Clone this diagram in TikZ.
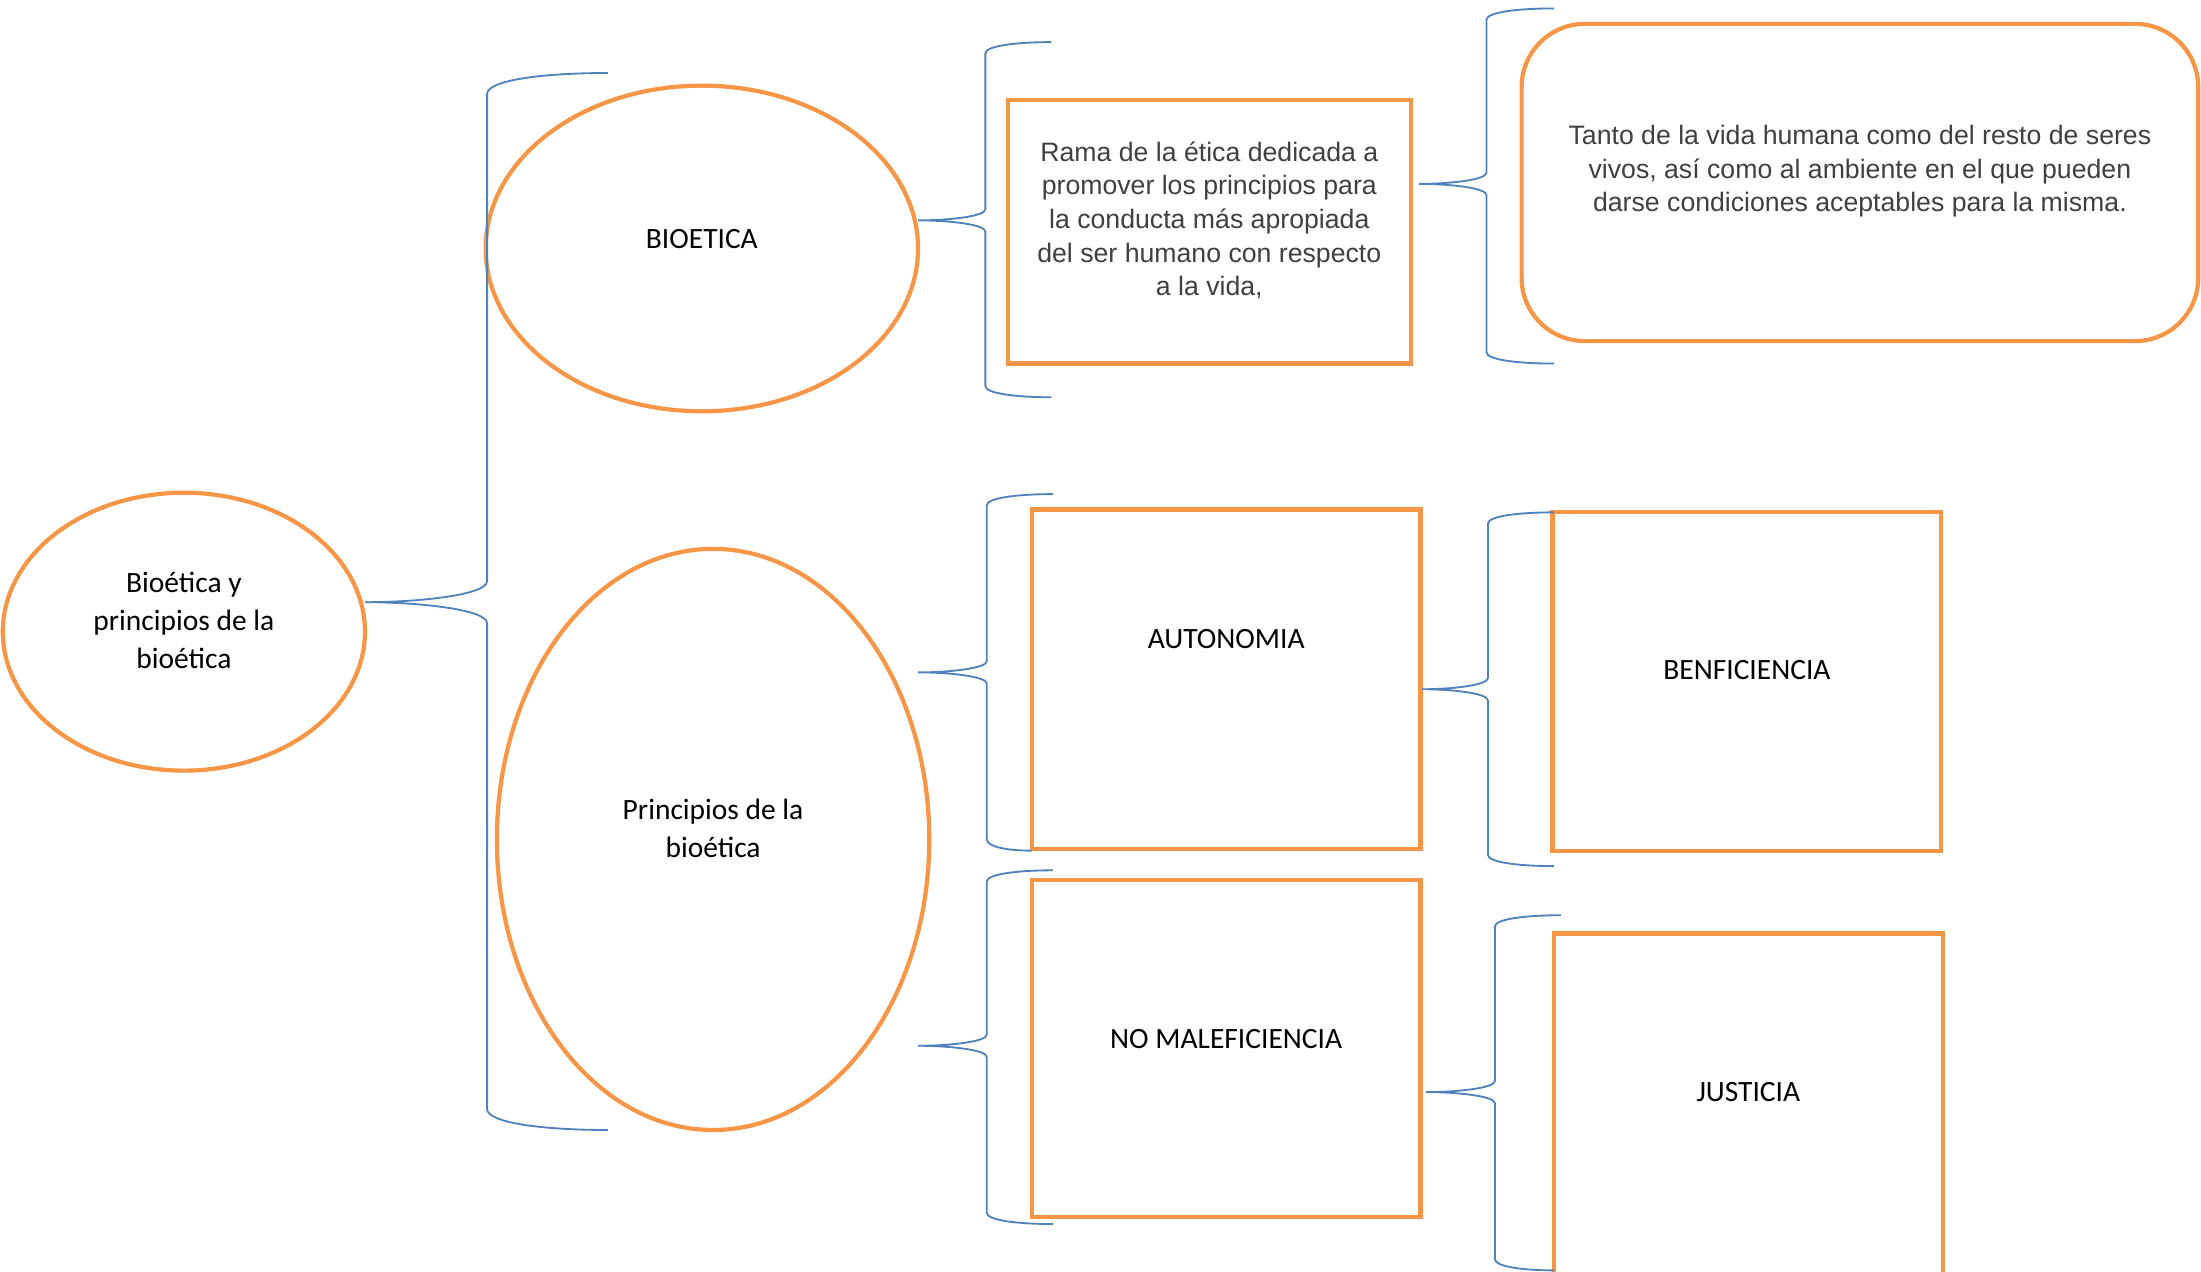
\documentclass[tikz,border=0pt]{standalone}
\usepackage{fontspec}
\setmainfont{Carlito}
\newfontfamily\arialf{Liberation Sans}
\usetikzlibrary{shapes.geometric}
\definecolor{oorange}{HTML}{F79646}
\definecolor{bblue}{HTML}{4F81BD}
\definecolor{tgray}{HTML}{404040}
% #1 tip x, #2 tip y, #3 vertical x, #4 top y, #5 top end x, #6 bottom y, #7 bottom end x, #8 hook size
\newcommand\drawbrace[8]{%
  \draw[brc] (#5,#4) .. controls ({#3+0.45*(#5-#3)},#4) and (#3,{#4+0.35*#8}) .. (#3,{#4+#8})
    -- (#3,{#2-#8}) .. controls (#3,{#2-0.35*#8}) and ({#1+0.45*(#3-#1)},#2) .. (#1,#2)
    .. controls ({#1+0.45*(#3-#1)},#2) and (#3,{#2+0.35*#8}) .. (#3,{#2+#8})
    -- (#3,{#6-#8}) .. controls (#3,{#6-0.35*#8}) and ({#3+0.45*(#7-#3)},#6) .. (#7,#6);}
\begin{document}
\begin{tikzpicture}[x=1pt,y=-1pt,
  obox/.style={draw=oorange, line width=3pt, rectangle, inner sep=0pt, outer sep=0pt, anchor=north west},
  oell/.style={draw=oorange, line width=3pt, ellipse, inner sep=0pt, outer sep=0pt},
  brc/.style={draw=bblue, line width=1.3pt},
  ctext/.style={font=\fontsize{21}{27}\selectfont, align=center, text=black},
  atext/.style={font=\arialf\fontsize{19}{24}\selectfont, align=center, text=tgray}]
\clip (0,0) rectangle (1568,906);
\fill[white] (0,0) rectangle (1568,906);

% ellipses
\node[oell, minimum width=258pt, minimum height=198pt,
  label={[ctext,yshift=8pt]center:Bioética y\\principios de la\\bioética}] (root) at (131,450) {};
\node[oell, minimum width=308pt, minimum height=232pt,
  label={[ctext,yshift=7pt]center:BIOETICA}] (bio) at (500,177) {};
\node[oell, minimum width=308pt, minimum height=414pt,
  label={[ctext,yshift=8pt]center:Principios de la\\bioética}] (princ) at (508,598) {};

% boxes
\node[obox, minimum width=287pt, minimum height=188pt,
  label={[atext,yshift=8pt]center:Rama de la ética dedicada a\\promover los principios para\\la conducta más apropiada\\del ser humano con respecto\\a la vida,}] (rama) at (718,71) {};
\node[obox, rounded corners=45pt, minimum width=482pt, minimum height=226pt,
  label={[atext,yshift=8pt]center:Tanto de la vida humana como del resto de seres\\vivos, así como al ambiente en el que pueden\\darse condiciones aceptables para la misma.}] (tanto) at (1084,17) {};
\node[obox, minimum width=277pt, minimum height=242pt,
  label={[ctext,yshift=29pt]center:AUTONOMIA}] (auto) at (735,363) {};
\node[obox, minimum width=277pt, minimum height=240pt,
  label={[ctext,yshift=7pt]center:NO MALEFICIENCIA}] (nomal) at (735,627) {};
\node[obox, minimum width=277pt, minimum height=241pt,
  label={[ctext,yshift=8pt]center:BENFICIENCIA}] (benf) at (1106,365) {};
\node[obox, minimum width=277pt, minimum height=250pt,
  label={[ctext,yshift=12pt]center:JUSTICIA}] (just) at (1107,665) {};

% braces
\drawbrace{260}{429}{347}{52}{433}{805}{433}{15}
\drawbrace{654}{157}{702}{30}{749}{283}{749}{8}
\drawbrace{1011}{131}{1059}{6}{1107}{259}{1107}{8}
\drawbrace{654}{479}{703}{352}{750}{606}{735}{8}
\drawbrace{654}{745}{703}{620}{750}{872}{750}{8}
\drawbrace{1013}{491}{1060}{365}{1107}{617}{1107}{8}
\drawbrace{1016}{778}{1065}{652}{1112}{905}{1107}{8}
\end{tikzpicture}
\end{document}
